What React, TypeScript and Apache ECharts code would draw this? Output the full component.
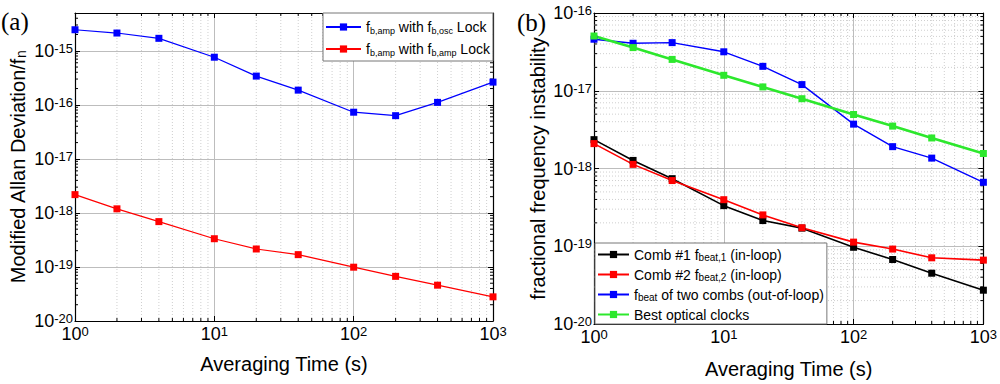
import React, { useEffect, useRef } from 'react';
import * as echarts from 'echarts';

// ---------- data ----------
const TAU = [1, 2, 4, 10, 20, 40, 100, 200, 400, 1000];

// panel (a)
const A_OSC_LOCK = [2.45e-15, 2.13e-15, 1.7e-15, 7.6e-16, 3.4e-16, 1.87e-16, 7.3e-17, 6.3e-17, 1.11e-16, 2.63e-16];
const A_AMP_LOCK = [2.18e-18, 1.19e-18, 6.9e-19, 3.33e-19, 2.15e-19, 1.69e-19, 9.9e-20, 6.7e-20, 4.6e-20, 2.8e-20];

// panel (b)
const B_COMB1 = [2.35e-18, 1.27e-18, 7.4e-19, 3.33e-19, 2.14e-19, 1.71e-19, 9.7e-20, 6.75e-20, 4.5e-20, 2.72e-20];
const B_COMB2 = [2.09e-18, 1.13e-18, 7.0e-19, 3.97e-19, 2.53e-19, 1.73e-19, 1.13e-19, 9.2e-20, 7.1e-20, 6.63e-20];
const B_BEAT = [4.6e-17, 4.08e-17, 4.16e-17, 3.17e-17, 2.06e-17, 1.2e-17, 3.72e-18, 1.91e-18, 1.36e-18, 6.65e-19];
const B_CLOCKS = [5.06e-17, 3.59e-17, 2.53e-17, 1.58e-17, 1.12e-17, 7.9e-18, 4.95e-18, 3.51e-18, 2.47e-18, 1.56e-18];

const NAMES_A = ['fb,amp with fb,osc Lock', 'fb,amp with fb,amp Lock'];
const LABELS_A = ['f{sub|b,amp} with f{sub|b,osc} Lock', 'f{sub|b,amp} with f{sub|b,amp} Lock'];
const NAMES_B = ['Comb #1 fbeat,1 (in-loop)', 'Comb #2 fbeat,2 (in-loop)', 'fbeat of two combs (out-of-loop)', 'Best optical clocks'];
const LABELS_B = [
  'Comb #1 f{sub|beat,1} (in-loop)',
  'Comb #2 f{sub|beat,2} (in-loop)',
  'f{sub|beat} of two combs (out-of-loop)',
  'Best optical clocks',
];

// axis ranges
const X_RANGE = [1, 1000];
const YA_RANGE = [1e-20, 5e-15];
const YB_RANGE = [1e-20, 1e-16];

// minor (2..9) positions within decades
const MANTISSAS = [2, 3, 4, 5, 6, 7, 8, 9];
const X_DECADES = [1, 10, 100];
const YA_DECADES = [1e-20, 1e-19, 1e-18, 1e-17, 1e-16, 1e-15];
const YB_DECADES = [1e-20, 1e-19, 1e-18, 1e-17];

const FONT = '"Liberation Sans", Arial, sans-serif';
const SERIF = '"Liberation Serif", "Times New Roman", serif';

function minorList(decades: number[], maxVal: number) {
  const out: number[] = [];
  decades.forEach((d) => MANTISSAS.forEach((m) => {
    const v = d * m;
    if (v < maxVal) out.push(v);
  }));
  return out;
}

const pow10Label = (v: number) => {
  const e = Math.log10(v);
  const r = Math.round(e);
  if (Math.abs(e - r) > 1e-6) return '';
  return `{b|10}{s|${r}}`;
};

const tickRich = {
  b: { fontSize: 18, fontFamily: FONT, color: '#000', lineHeight: 18, verticalAlign: 'bottom' },
  s: { fontSize: 13, fontFamily: FONT, color: '#000', lineHeight: 13, verticalAlign: 'top', padding: [0, 0, 7, 0] },
};

const subRich = (main: number, sub: number, lh: number) => ({
  sub: { fontSize: sub, fontFamily: FONT, color: '#000', lineHeight: sub, verticalAlign: 'bottom' },
  t: { fontSize: main, fontFamily: FONT, color: '#000', lineHeight: lh },
});

function xAxisPair(gridIndex: number) {
  return [
    {
      type: 'log', gridIndex, position: 'bottom', min: X_RANGE[0], max: X_RANGE[1],
      name: 'Averaging Time (s)', nameLocation: 'middle', nameGap: gridIndex === 0 ? 33 : 35,
      nameTextStyle: { fontFamily: FONT, fontSize: 20, color: '#000' },
      axisLine: { show: true, lineStyle: { color: '#000', width: 1.2 } },
      axisTick: { show: true, inside: true, length: 5, lineStyle: { color: '#000' } },
      axisLabel: { formatter: pow10Label, rich: tickRich, margin: 4 },
      splitLine: { show: true, lineStyle: { color: '#bdbdbd', width: 1 } },
      minorTick: { show: false },
    },
    {
      type: 'log', gridIndex, position: 'top', min: X_RANGE[0], max: X_RANGE[1],
      axisLine: { show: true, lineStyle: { color: '#000', width: 1.2 } },
      axisTick: { show: true, inside: true, length: 5, lineStyle: { color: '#000' } },
      axisLabel: { show: false },
      splitLine: { show: false },
    },
  ];
}

function yAxisPair(gridIndex: number, range: number[], name: string, nameGap: number, rich: any) {
  return [
    {
      type: 'log', gridIndex, position: 'left', min: range[0], max: range[1], splitNumber: 6,
      name, nameLocation: 'middle', nameGap, nameRotate: 90,
      nameTextStyle: { fontFamily: FONT, fontSize: 20, color: '#000', rich },
      axisLine: { show: true, lineStyle: { color: '#000', width: 1.2 } },
      axisTick: { show: true, inside: true, length: 5, lineStyle: { color: '#000' } },
      axisLabel: { formatter: pow10Label, rich: tickRich, margin: 2 },
      splitLine: { show: true, lineStyle: { color: '#bdbdbd', width: 1 } },
    },
    {
      type: 'log', gridIndex, position: 'right', min: range[0], max: range[1], splitNumber: 6,
      axisLine: { show: true, lineStyle: { color: '#000', width: 1.2 } },
      axisTick: { show: true, inside: true, length: 5, lineStyle: { color: '#000' } },
      axisLabel: { show: false },
      splitLine: { show: false },
    },
  ];
}

function minorXSeries(xIdx: number, yIdx: number, yRange: number[], values: number[]) {
  return {
    type: 'custom', xAxisIndex: xIdx, yAxisIndex: yIdx, silent: true,
    data: values.map((v) => [v, yRange[0]]),
    renderItem: (_p: any, api: any) => {
      const v = api.value(0);
      const b = api.coord([v, yRange[0]]);
      const t = api.coord([v, yRange[1]]);
      return {
        type: 'group',
        children: [
          { type: 'line', shape: { x1: b[0], y1: b[1], x2: t[0], y2: t[1] }, style: { stroke: '#cfcfcf', lineWidth: 1, lineDash: [1, 2] } },
          { type: 'line', shape: { x1: b[0], y1: b[1], x2: b[0], y2: b[1] - 3 }, style: { stroke: '#000', lineWidth: 1 } },
          { type: 'line', shape: { x1: t[0], y1: t[1], x2: t[0], y2: t[1] + 3 }, style: { stroke: '#000', lineWidth: 1 } },
        ],
      };
    },
  };
}

function minorYSeries(xIdx: number, yIdx: number, values: number[], withGrid: boolean) {
  return {
    type: 'custom', xAxisIndex: xIdx, yAxisIndex: yIdx, silent: true,
    data: values.map((v) => [X_RANGE[0], v]),
    renderItem: (_p: any, api: any) => {
      const v = api.value(1);
      const l = api.coord([X_RANGE[0], v]);
      const r = api.coord([X_RANGE[1], v]);
      const children: any[] = [
        { type: 'line', shape: { x1: l[0], y1: l[1], x2: l[0] + 3, y2: l[1] }, style: { stroke: '#000', lineWidth: 1 } },
        { type: 'line', shape: { x1: r[0], y1: r[1], x2: r[0] - 3, y2: r[1] }, style: { stroke: '#000', lineWidth: 1 } },
      ];
      if (withGrid) {
        children.unshift({ type: 'line', shape: { x1: l[0], y1: l[1], x2: r[0], y2: r[1] }, style: { stroke: '#cfcfcf', lineWidth: 1, lineDash: [1, 2] } });
      }
      return { type: 'group', children };
    },
  };
}

function lineSeries(name: string, ys: number[], color: string, width: number, xIdx: number, yIdx: number) {
  return {
    type: 'line', name, xAxisIndex: xIdx, yAxisIndex: yIdx,
    data: TAU.map((t, i) => [t, ys[i]]),
    symbol: 'rect', symbolSize: 7, showSymbol: true,
    lineStyle: { color, width },
    itemStyle: { color },
    z: 3,
  };
}

export default function App() {
  const ref = useRef<HTMLDivElement>(null);

  useEffect(() => {
    if (!ref.current) return;
    const chart = echarts.init(ref.current, null, { renderer: 'svg' });
    const xMinor = minorList(X_DECADES, X_RANGE[1]);
    const yaMinor = minorList(YA_DECADES, YA_RANGE[1]);
    const ybMinor = minorList(YB_DECADES, YB_RANGE[1]);

    const option: any = {
      animation: false,
      backgroundColor: '#fff',
      grid: [
        { left: 75, right: 507, top: 13, bottom: 63 },
        { left: 594, right: 13, top: 13, bottom: 57 },
      ],
      xAxis: [...xAxisPair(0), ...xAxisPair(1)],
      yAxis: [
        ...yAxisPair(0, YA_RANGE, '{t|Modified Allan Deviation/f}{sub|n}', 47, subRich(20, 14, 21)),
        ...yAxisPair(1, YB_RANGE, 'fractional frequency instability', 46, {}),
      ],
      legend: [
        {
          data: NAMES_A, left: 323, top: 13, orient: 'vertical',
          itemWidth: 35, itemHeight: 9, itemGap: 6, padding: [6, 3, 4, 2],
          backgroundColor: '#fff', borderColor: '#777', borderWidth: 1,
          selectedMode: false,
          formatter: (n: string) => LABELS_A[NAMES_A.indexOf(n)],
          textStyle: { fontFamily: FONT, fontSize: 14, color: '#000', lineHeight: 16, rich: subRich(14, 9, 16) },
        },
        {
          data: NAMES_B, left: 595, top: 243, orient: 'vertical',
          itemWidth: 31, itemHeight: 9, itemGap: 5, padding: [4, 3, 2, 2],
          backgroundColor: '#fff', borderColor: '#777', borderWidth: 1,
          selectedMode: false,
          formatter: (n: string) => LABELS_B[NAMES_B.indexOf(n)],
          textStyle: { fontFamily: FONT, fontSize: 14, color: '#000', lineHeight: 15, rich: subRich(14, 10, 15) },
        },
      ],
      graphic: [
        { type: 'text', x: 1, y: 9, style: { text: '(a)', fontFamily: SERIF, fontSize: 25, fill: '#000' } },
        { type: 'text', x: 517, y: 10, style: { text: '(b)', fontFamily: SERIF, fontSize: 25, fill: '#000' } },
      ],
      series: [
        minorXSeries(0, 0, YA_RANGE, xMinor),
        minorYSeries(0, 0, yaMinor, false),
        minorXSeries(2, 2, YB_RANGE, xMinor),
        minorYSeries(2, 2, ybMinor, true),
        lineSeries(NAMES_A[0], A_OSC_LOCK, '#0000ff', 1.2, 0, 0),
        lineSeries(NAMES_A[1], A_AMP_LOCK, '#ff0000', 1.2, 0, 0),
        lineSeries(NAMES_B[0], B_COMB1, '#000000', 1.6, 2, 2),
        lineSeries(NAMES_B[1], B_COMB2, '#ff0000', 1.6, 2, 2),
        lineSeries(NAMES_B[2], B_BEAT, '#0000ff', 1.4, 2, 2),
        lineSeries(NAMES_B[3], B_CLOCKS, '#2de82d', 2.6, 2, 2),
      ],
    };
    chart.setOption(option);
    return () => chart.dispose();
  }, []);

  return (
    <div
      ref={ref}
      style={{ position: 'fixed', left: 0, top: 0, width: 1000, height: 384, background: '#fff' }}
    />
  );
}
